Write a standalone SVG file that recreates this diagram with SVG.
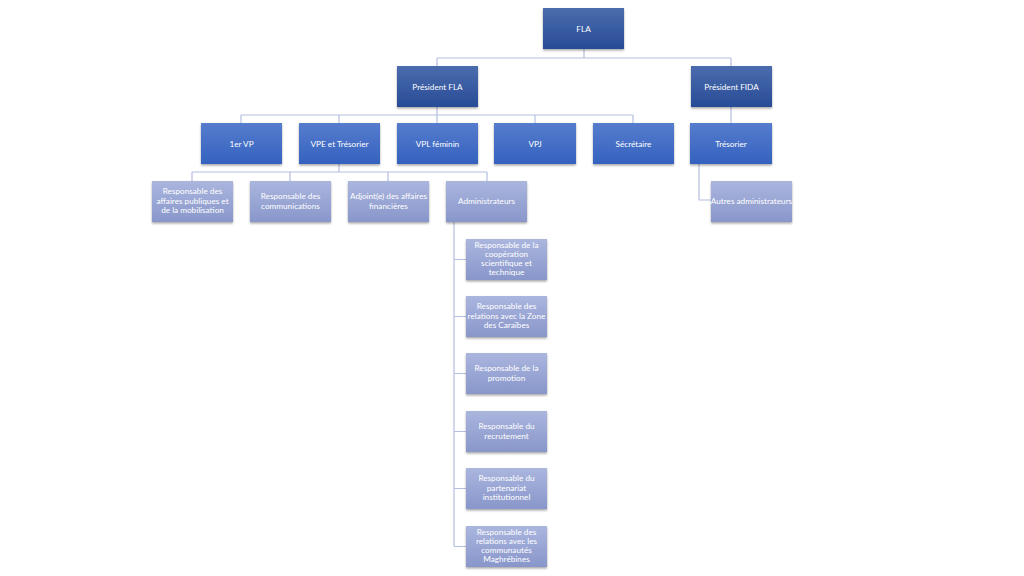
<svg xmlns="http://www.w3.org/2000/svg" width="1024" height="576" viewBox="0 0 1024 576">
<defs>
<linearGradient id="g1" x1="0" y1="0" x2="0" y2="1"><stop offset="0" stop-color="#4b6cad"/><stop offset="1" stop-color="#284c97"/></linearGradient>
<linearGradient id="g2" x1="0" y1="0" x2="0" y2="1"><stop offset="0" stop-color="#567ccd"/><stop offset="1" stop-color="#3462be"/></linearGradient>
<linearGradient id="g3" x1="0" y1="0" x2="0" y2="1"><stop offset="0" stop-color="#abb6de"/><stop offset="1" stop-color="#8896ca"/></linearGradient>
<filter id="sh" x="-10%" y="-10%" width="130%" height="140%"><feDropShadow dx="0" dy="1.5" stdDeviation="1" flood-color="#000" flood-opacity="0.35"/></filter>
</defs>
<style>
rect{filter:url(#sh)}
.l1{fill:url(#g1)}
.l2{fill:url(#g2)}
.l3{fill:url(#g3)}
text{font-family:Lato,"Open Sans","Liberation Sans",sans-serif;font-size:8.2px;fill:#ffffff;text-anchor:middle}
.c{fill:none;stroke:#b3bfe0;stroke-width:1.2}
</style>
<rect width="1024" height="576" fill="#ffffff" style="filter:none"/>
<g id="connectors">
<path class="c" d="M584 49V58M437 58H731M437 58V66M731 58V66"/>
<path class="c" d="M437 107V115M241 115H633M241 115V123M339 115V123M437 115V123M535 115V123M633 115V123"/>
<path class="c" d="M731 107V123"/>
<path class="c" d="M339 164V172M192 172H487M192 172V181M290 172V181M388 172V181M487 172V181"/>
<path class="c" d="M699 164V200H711"/>
<path class="c" d="M454 222V546M454 259.5H466M454 316.5H466M454 373.5H466M454 431.5H466M454 488.5H466M454 546.5H466"/>
</g>
<g id="n-fla"><rect class="l1" x="543" y="8" width="81" height="41"/><text x="583.5" y="31.5">FLA</text></g>
<g id="n-pfla"><rect class="l1" x="397" y="66" width="81" height="41"/><text x="437.5" y="89.5">Président FLA</text></g>
<g id="n-pfida"><rect class="l1" x="691" y="66" width="81" height="41"/><text x="731.5" y="89.5">Président FIDA</text></g>
<g id="n-1vp"><rect class="l2" x="201" y="123" width="81" height="41"/><text x="241.5" y="146.5">1er VP</text></g>
<g id="n-vpe"><rect class="l2" x="299" y="123" width="81" height="41"/><text x="339.5" y="146.5">VPE et Trésorier</text></g>
<g id="n-vpl"><rect class="l2" x="397" y="123" width="81" height="41"/><text x="437.5" y="146.5">VPL féminin</text></g>
<g id="n-vpj"><rect class="l2" x="494" y="123" width="82" height="41"/><text x="535" y="146.5">VPJ</text></g>
<g id="n-sec"><rect class="l2" x="593" y="123" width="81" height="41"/><text x="633.5" y="146.5">Sécrétaire</text></g>
<g id="n-tres"><rect class="l2" x="690" y="123" width="82" height="41"/><text x="731" y="146.5">Trésorier</text></g>
<g id="n-rap"><rect class="l3" x="152" y="181" width="81" height="41"/><text x="192.5" y="194">Responsable des</text><text x="192.5" y="203.5">affaires publiques et</text><text x="192.5" y="213">de la mobilisation</text></g>
<g id="n-rcom"><rect class="l3" x="250" y="181" width="81" height="41"/><text x="290.5" y="199">Responsable des</text><text x="290.5" y="208.5">communications</text></g>
<g id="n-adj"><rect class="l3" x="348" y="181" width="81" height="41"/><text x="388.5" y="199">Adjoint(e) des affaires</text><text x="388.5" y="208.5">financières</text></g>
<g id="n-adm"><rect class="l3" x="446" y="181" width="81" height="41"/><text x="486.5" y="204">Administrateurs</text></g>
<g id="n-autres"><rect class="l3" x="711" y="181" width="81" height="41"/><text x="751.5" y="204">Autres administrateurs</text></g>
<g id="n-r1"><rect class="l3" x="466" y="239" width="81" height="41"/><text x="506.5" y="247.5">Responsable de la</text><text x="506.5" y="256.5">coopération</text><text x="506.5" y="265.5">scientifique et</text><text x="506.5" y="274.5">technique</text></g>
<g id="n-r2"><rect class="l3" x="466" y="296" width="81" height="41"/><text x="506.5" y="309">Responsable des</text><text x="506.5" y="318.5">relations avec la Zone</text><text x="506.5" y="328">des Caraïbes</text></g>
<g id="n-r3"><rect class="l3" x="466" y="353" width="81" height="41"/><text x="506.5" y="371">Responsable de la</text><text x="506.5" y="380.5">promotion</text></g>
<g id="n-r4"><rect class="l3" x="466" y="411" width="81" height="41"/><text x="506.5" y="429">Responsable du</text><text x="506.5" y="438.5">recrutement</text></g>
<g id="n-r5"><rect class="l3" x="466" y="468" width="81" height="41"/><text x="506.5" y="481">Responsable du</text><text x="506.5" y="490.5">partenariat</text><text x="506.5" y="500">institutionnel</text></g>
<g id="n-r6"><rect class="l3" x="466" y="526" width="81" height="41"/><text x="506.5" y="534.5">Responsable des</text><text x="506.5" y="543.5">relations avec les</text><text x="506.5" y="552.5">communautés</text><text x="506.5" y="561.5">Maghrébines</text></g>
</svg>
